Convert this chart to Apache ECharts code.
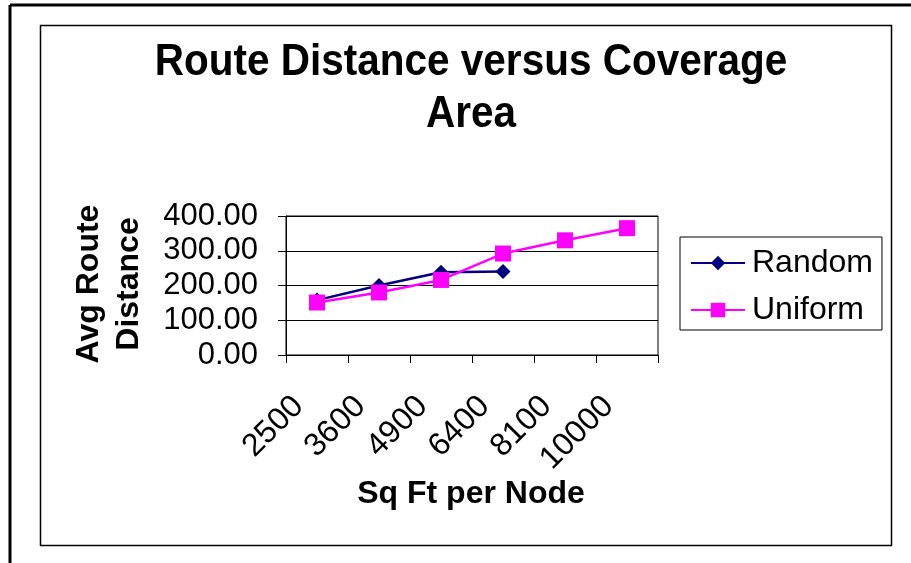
<!DOCTYPE html>
<html>
<head>
<meta charset="utf-8">
<script src="https://cdn.jsdelivr.net/npm/echarts@6/dist/echarts.min.js"></script>
<style>html,body{margin:0;padding:0;background:#fff}#c{width:911px;height:563px}</style>
</head>
<body>
<div id="c"></div>
<script>
var categories = ['2500', '3600', '4900', '6400', '8100', '10000'];
var randomValues = [158, 200, 238, 240];
var uniformValues = [151, 180, 216, 292, 330, 365];
var yTicks = [0, 100, 200, 300, 400];
var titleText = 'Route Distance versus Coverage\nArea';
var xName = 'Sq Ft per Node';
var yName = 'Avg Route\nDistance';

var FONT = '"Liberation Sans", Arial, sans-serif';
var chart = echarts.init(document.getElementById('c'), null, {renderer: 'canvas'});
chart.setOption({
  backgroundColor: '#fff',
  animation: false,
  textStyle: {fontFamily: FONT},
  graphic: [
    {type: 'line', shape: {x1: 10, y1: 5, x2: 911, y2: 5}, style: {stroke: '#000', lineWidth: 3}},
    {type: 'line', shape: {x1: 10, y1: 5, x2: 10, y2: 563}, style: {stroke: '#000', lineWidth: 3}},
    {type: 'rect', shape: {x: 40.5, y: 25.5, width: 851, height: 520}, style: {fill: null, stroke: '#000', lineWidth: 1.5}},
    {type: 'text', x: 471, y: 36, scaleY: 1.08, style: {text: titleText, font: 'bold 40.5px ' + FONT, fill: '#000', textAlign: 'center', textVerticalAlign: 'top', lineHeight: 49}},
    {type: 'text', x: 471, y: 494, style: {text: xName, font: 'bold 32px ' + FONT, fill: '#000', textAlign: 'center', textVerticalAlign: 'middle'}},
    {type: 'text', x: 109, y: 284, rotation: Math.PI / 2, style: {text: yName, font: 'bold 32px ' + FONT, fill: '#000', textAlign: 'center', textVerticalAlign: 'middle', lineHeight: 40}}
  ],
  legend: {
    orient: 'vertical',
    left: 680, top: 237,
    padding: [8, 9, 2, 10],
    itemGap: 11,
    itemWidth: 54, itemHeight: 18,
    borderColor: '#000', borderWidth: 1,
    textStyle: {fontSize: 32, lineHeight: 36, color: '#000', fontFamily: FONT, padding: [0, 0, 0, 2]},
    data: ['Random', 'Uniform']
  },
  grid: {left: 286, top: 216, right: 253, bottom: 208, show: true, borderColor: '#000', borderWidth: 1, containLabel: false},
  xAxis: {
    type: 'category',
    data: categories,
    boundaryGap: true,
    axisLine: {lineStyle: {color: '#000', width: 1}},
    axisTick: {show: true, length: 8, inside: false, lineStyle: {color: '#000'}},
    axisLabel: {rotate: 45, fontSize: 32, color: '#000', margin: 28, interval: 0, fontFamily: FONT, padding: [0, 26, 0, 0]},
    splitLine: {show: false}
  },
  yAxis: {
    type: 'value',
    min: yTicks[0], max: yTicks[yTicks.length - 1], interval: 100,
    axisLine: {show: true, lineStyle: {color: '#000', width: 1}},
    axisTick: {show: true, length: 8, inside: false, lineStyle: {color: '#000'}},
    axisLabel: {fontSize: 31, color: '#000', margin: 28, formatter: function (v) { return v.toFixed(2); }, fontFamily: FONT},
    splitLine: {show: true, lineStyle: {color: '#000', width: 1}}
  },
  series: [
    {name: 'Random', type: 'line', data: randomValues, symbol: 'diamond', symbolSize: 15,
     itemStyle: {color: '#000080'}, lineStyle: {color: '#000080', width: 2.5}},
    {name: 'Uniform', type: 'line', data: uniformValues, symbol: 'rect', symbolSize: 16,
     itemStyle: {color: '#FF00FF'}, lineStyle: {color: '#FF00FF', width: 2.5}}
  ]
});
</script>
</body>
</html>
